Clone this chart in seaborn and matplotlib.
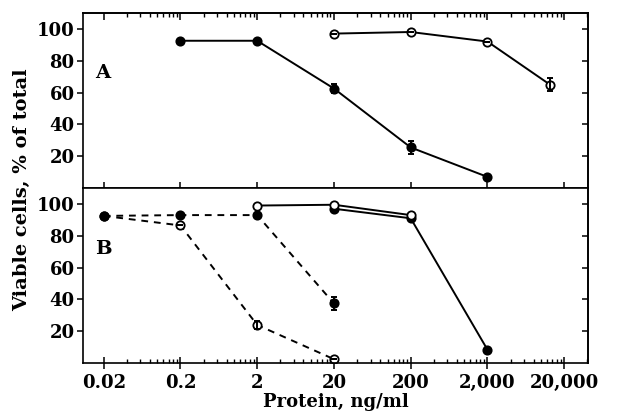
import numpy as np
import pandas as pd
import matplotlib
matplotlib.use("Agg")
import matplotlib.pyplot as plt
import matplotlib.ticker as mticker
import seaborn as sns

# panel A
a_filled_x = [0.2, 2, 20, 200, 2000]
a_filled_y = [92.5, 92.5, 62.5, 25.5, 7]
a_filled_err = [0, 0, 3, 4, 0]
a_open_x = [20, 200, 2000, 13000]
a_open_y = [97, 98, 92, 65]
a_open_err = [0, 0, 0, 4]

# panel B
b_solid_open_x = [2, 20, 200]
b_solid_open_y = [99, 99.5, 93]
b_solid_filled_x = [20, 200, 2000]
b_solid_filled_y = [97, 91, 8.5]
b_dash_filled_x = [0.02, 0.2, 2, 20]
b_dash_filled_y = [92.5, 93, 93, 37.5]
b_dash_filled_err = [0, 0, 0, 4]
b_dash_open_x = [0.02, 0.2, 2, 20]
b_dash_open_y = [92.5, 86.5, 24, 2.5]
b_dash_open_err = [0, 0, 2.5, 0]

xticks = [0.02, 0.2, 2, 20, 200, 2000, 20000]
xtick_labels = ["0.02", "0.2", "2", "20", "200", "2,000", "20,000"]
yticks = [20, 40, 60, 80, 100]

sns.set_style("ticks")
plt.rcParams["font.family"] = ["DejaVu Serif"]
plt.rcParams["font.weight"] = "bold"
plt.rcParams["lines.dashed_pattern"] = [3.5, 3]
for k in ["text.color", "axes.edgecolor", "axes.labelcolor", "xtick.color", "ytick.color"]:
    plt.rcParams[k] = "black"

fig = plt.figure(figsize=(6.23, 4.16), dpi=100)
axA = fig.add_axes([0.133, 0.548, 0.811, 0.421])
axB = fig.add_axes([0.133, 0.127, 0.811, 0.421])


def draw(ax, x, y, err, filled, dashed):
    df = pd.DataFrame({"x": x, "y": y})
    sns.lineplot(data=df, x="x", y="y", ax=ax, color="black", lw=1.4,
                 linestyle="--" if dashed else "-", marker="o", markersize=6,
                 markerfacecolor="black" if filled else "white",
                 markeredgecolor="black", markeredgewidth=1.3, errorbar=None)
    if err is not None and any(err):
        ax.errorbar(x, y, yerr=err, fmt="none", ecolor="black",
                    elinewidth=1.4, capsize=2, capthick=1.4, zorder=3)


draw(axA, a_filled_x, a_filled_y, a_filled_err, True, False)
draw(axA, a_open_x, a_open_y, a_open_err, False, False)

draw(axB, b_dash_open_x, b_dash_open_y, b_dash_open_err, False, True)
draw(axB, b_dash_filled_x, b_dash_filled_y, b_dash_filled_err, True, True)
draw(axB, b_solid_filled_x, b_solid_filled_y, None, True, False)
draw(axB, b_solid_open_x, b_solid_open_y, None, False, False)

minors = [m * k for m in xticks for k in range(2, 10)]

for ax in (axA, axB):
    ax.set_xscale("log")
    ax.set_xlim(0.0107, 41000)
    ax.set_ylim(0, 110)
    ax.set_yticks(yticks)
    ax.set_yticklabels([str(v) for v in yticks], fontsize=13, fontweight="bold")
    ax.set_ylabel("")
    for s in ax.spines.values():
        s.set_linewidth(1.2)
        s.set_visible(True)
    ax.tick_params(axis="y", direction="out", length=4, width=1.1, pad=2)
    ax.xaxis.set_major_locator(mticker.FixedLocator(xticks))
    ax.xaxis.set_minor_locator(mticker.FixedLocator(minors))
    ax.xaxis.set_minor_formatter(mticker.NullFormatter())
    ax.tick_params(axis="x", which="major", direction="inout", length=9, width=1.1)
    ax.tick_params(axis="x", which="minor", direction="in", length=3, width=1.0)
    sec = ax.secondary_yaxis("right")
    sec.set_yticks(yticks)
    sec.set_yticklabels([])
    sec.tick_params(direction="in", length=4, width=1.1)
    sec.spines["right"].set_linewidth(1.2)

axA.xaxis.set_major_formatter(mticker.NullFormatter())
axA.set_xlabel("")
axA.tick_params(axis="x", which="minor", bottom=False)
topx = axA.secondary_xaxis("top")
topx.xaxis.set_major_locator(mticker.FixedLocator(xticks))
topx.xaxis.set_minor_locator(mticker.FixedLocator(minors))
topx.xaxis.set_major_formatter(mticker.NullFormatter())
topx.xaxis.set_minor_formatter(mticker.NullFormatter())
topx.tick_params(which="major", direction="in", length=5, width=1.1)
topx.tick_params(which="minor", direction="in", length=3, width=1.0)
topx.spines["top"].set_linewidth(1.2)

axB.xaxis.set_major_formatter(mticker.FixedFormatter(xtick_labels))
axB.tick_params(axis="x", which="major", pad=3, labelsize=13)
axB.set_xlabel("Protein, ng/ml", fontsize=13, fontweight="bold", labelpad=1)

axA.text(0.024, 0.654, "A", transform=axA.transAxes, fontsize=14,
         fontweight="bold", va="center", ha="left")
axB.text(0.024, 0.654, "B", transform=axB.transAxes, fontsize=14,
         fontweight="bold", va="center", ha="left")

fig.text(0.035, 0.543, "Viable cells, % of total", rotation=90, fontsize=14,
         fontweight="bold", va="center", ha="center")

fig.savefig("out.png", dpi=100)
